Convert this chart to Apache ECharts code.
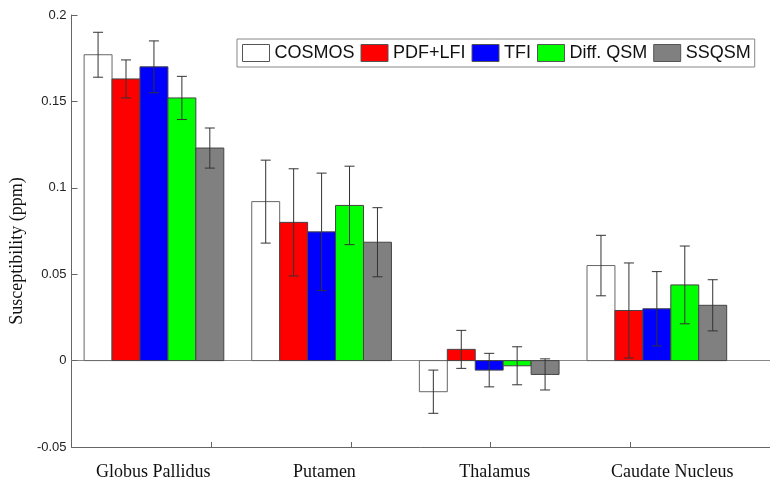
<!DOCTYPE html>
<html>
<head>
<meta charset="utf-8">
<script src="https://cdn.jsdelivr.net/npm/echarts@6/dist/echarts.min.js"></script>
<style>
html,body{margin:0;padding:0;background:#fff;}
#chart{width:770px;height:487px;}
</style>
</head>
<body>
<div id="chart"></div>
<script>
// ---- data ----
var categories = ['Globus Pallidus', 'Putamen', 'Thalamus', 'Caudate Nucleus'];
var methods = ['COSMOS', 'PDF+LFI', 'TFI', 'Diff. QSM', 'SSQSM'];
var cosmos    = [0.177, 0.092, -0.018, 0.055];
var pdfLfi    = [0.163, 0.080,  0.0065, 0.029];
var tfi       = [0.170, 0.0745, -0.0055, 0.030];
var diffQsm   = [0.152, 0.0898, -0.003, 0.0438];
var ssqsm     = [0.123, 0.0685, -0.008, 0.032];
var cosmosErr  = [0.013, 0.024, 0.0125, 0.0175];
var pdfLfiErr  = [0.011, 0.031, 0.011, 0.0275];
var tfiErr     = [0.015, 0.034, 0.0097, 0.0215];
var diffQsmErr = [0.0125, 0.0227, 0.011, 0.0225];
var ssqsmErr   = [0.0116, 0.020, 0.009, 0.0148];
var yTicks = [-0.05, 0, 0.05, 0.1, 0.15, 0.2];

var values = [cosmos, pdfLfi, tfi, diffQsm, ssqsm];
var errors = [cosmosErr, pdfLfiErr, tfiErr, diffQsmErr, ssqsmErr];

// ---- layout / style ----
var colors = ['#ffffff', '#ff0000', '#0000ff', '#00ff00', '#808080'];
var borders = ['#666666', '#444444', '#444444', '#444444', '#444444'];
var groupStart = 0.59, groupStep = 1.2, barW = 0.2;
var labelX = [0.585, 1.81, 3.03, 4.30];
var sans = "'Liberation Sans', Arial, sans-serif";
var serif = "'Liberation Serif', 'Times New Roman', serif";

function renderBar(params, api) {
  var x = api.value(0), v = api.value(1), e = api.value(2);
  var pA = api.coord([x - barW / 2, 0]);
  var pB = api.coord([x + barW / 2, v]);
  var top = api.coord([x, v + e]);
  var bot = api.coord([x, v - e]);
  var cx = (pA[0] + pB[0]) / 2;
  var cap = 5;
  var s = params.seriesIndex;
  return {
    type: 'group',
    children: [
      { type: 'rect',
        shape: { x: pA[0], y: Math.min(pA[1], pB[1]), width: pB[0] - pA[0], height: Math.abs(pA[1] - pB[1]) },
        style: { fill: colors[s], stroke: borders[s], lineWidth: 1 } },
      { type: 'line', shape: { x1: cx, y1: top[1], x2: cx, y2: bot[1] }, style: { stroke: '#333', lineWidth: 1 } },
      { type: 'line', shape: { x1: cx - cap, y1: top[1], x2: cx + cap, y2: top[1] }, style: { stroke: '#333', lineWidth: 1 } },
      { type: 'line', shape: { x1: cx - cap, y1: bot[1], x2: cx + cap, y2: bot[1] }, style: { stroke: '#333', lineWidth: 1 } }
    ]
  };
}

var series = methods.map(function (m, j) {
  return {
    name: m,
    type: 'custom',
    xAxisIndex: 0,
    yAxisIndex: 0,
    itemStyle: { color: colors[j], borderColor: borders[j], borderWidth: 1 },
    renderItem: renderBar,
    encode: { x: 0, y: 1 },
    data: categories.map(function (c, i) {
      return [groupStart + groupStep * i + (j - 2) * barW, values[j][i], errors[j][i]];
    })
  };
});

var chart = echarts.init(document.getElementById('chart'), null, { renderer: 'canvas' });
chart.setOption({
  animation: false,
  backgroundColor: '#fff',
  grid: { left: 69, top: 15, width: 708.5, bottom: 40 },
  legend: {
    left: 237, top: 39,
    orient: 'horizontal',
    icon: 'rect',
    itemWidth: 27, itemHeight: 17, itemGap: 6,
    padding: [5, 4, 5, 5],
    backgroundColor: '#fff',
    borderColor: '#888', borderWidth: 1,
    itemStyle: { borderColor: '#555', borderWidth: 1 },
    textStyle: { fontFamily: sans, fontSize: 18, color: '#111' },
    data: methods
  },
  xAxis: [
    {
      type: 'value', min: 0, max: 5, position: 'bottom',
      axisLine: { show: true, onZero: false, lineStyle: { color: '#666', width: 1 } },
      axisTick: { show: true, inside: true, length: 5, customValues: [1, 2, 3, 4], lineStyle: { color: '#666' } },
      axisLabel: {
        show: true, customValues: labelX, margin: 16,
        fontFamily: serif, fontSize: 18, color: '#111',
        formatter: function (v) {
          var best = 0, d = 1e9;
          for (var i = 0; i < labelX.length; i++) { var dd = Math.abs(labelX[i] - v); if (dd < d) { d = dd; best = i; } }
          return categories[best];
        }
      },
      splitLine: { show: false }
    },
    {
      type: 'value', min: 0, max: 5, position: 'top',
      axisLine: { show: true, onZero: true, lineStyle: { color: '#888', width: 1 } },
      axisTick: { show: false }, axisLabel: { show: false }, splitLine: { show: false }
    }
  ],
  yAxis: [{
    type: 'value', min: yTicks[0], max: yTicks[yTicks.length - 1], interval: 0.05,
    name: 'Susceptibility (ppm)', nameLocation: 'middle', nameGap: 44,
    nameTextStyle: { fontFamily: serif, fontSize: 18, color: '#111', padding: [0, 40, 0, 0] },
    axisLine: { show: true, onZero: false, lineStyle: { color: '#666', width: 1 } },
    axisTick: { show: true, inside: true, length: 6, lineStyle: { color: '#666' } },
    axisLabel: {
      fontFamily: sans, fontSize: 13, color: '#222', margin: 5,
      formatter: function (v) { return String(parseFloat(v.toFixed(3))); }
    },
    splitLine: { show: false }
  }],
  series: series
});
</script>
</body>
</html>
